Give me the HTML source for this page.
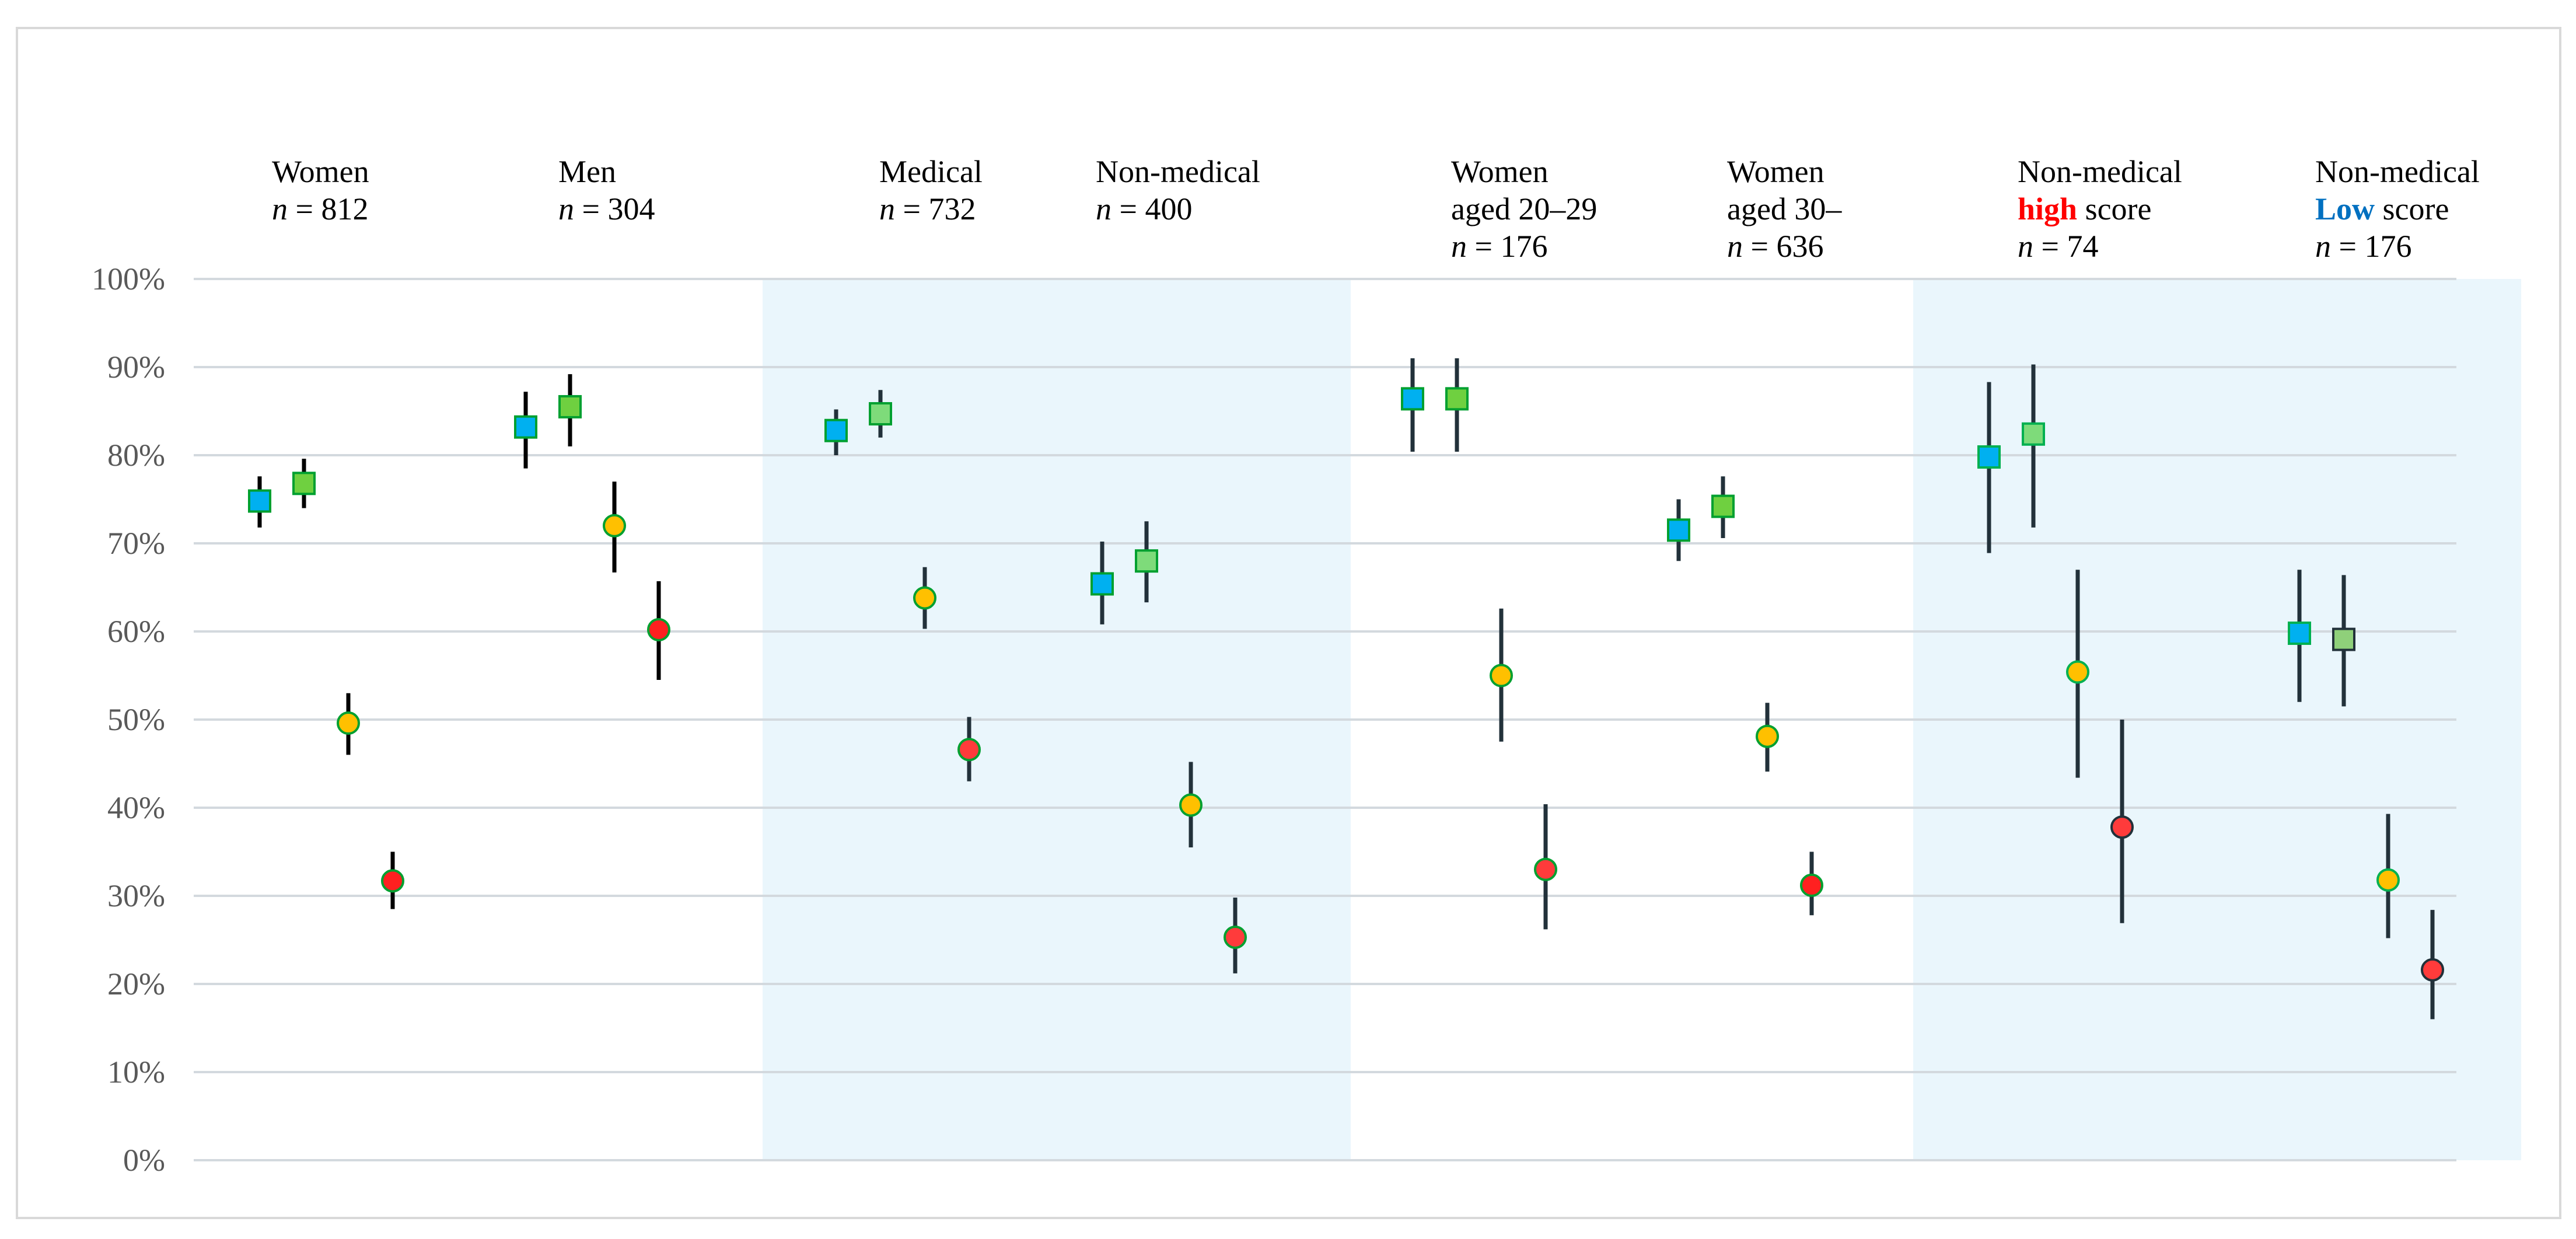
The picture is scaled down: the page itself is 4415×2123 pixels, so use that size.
<!DOCTYPE html>
<html><head><meta charset="utf-8"><style>
body{margin:0;background:#fff;}
svg{display:block;}
svg text{font-family:"Liberation Serif","Times New Roman",serif;}
</style></head><body>
<svg id="chart" width="4415" height="2123" viewBox="0 0 4415 2123" xmlns="http://www.w3.org/2000/svg">
<rect x="29" y="48" width="4359" height="2039" fill="#fff" stroke="#d9d9d9" stroke-width="4"/>
<g id="bands"></g>
<g id="grid"></g>
<g id="ylabels"></g>
<g id="cats"></g>
<g id="marks"></g>
</svg>
<script>
const groups = ["Women","Men","Medical","Non-medical","Women aged 20–29","Women aged 30–","Non-medical high score","Non-medical Low score"];
const groupN = [812,304,732,400,176,636,74,176];
const series = ["blue","green","yellow","red"];
const blueVal  = [74.8,83.2,82.8,65.4,86.4,71.5,79.8,59.8];
const blueLo   = [71.8,78.5,80.0,60.8,80.4,68.0,68.9,52.0];
const blueHi   = [77.6,87.2,85.2,70.2,91.0,75.0,88.3,67.0];
const greenVal = [76.8,85.5,84.7,68.0,86.4,74.2,82.4,59.1];
const greenLo  = [74.0,81.0,82.0,63.3,80.4,70.6,71.8,51.5];
const greenHi  = [79.6,89.2,87.4,72.5,91.0,77.6,90.3,66.4];
const yellowVal= [49.6,72.0,63.8,40.3,55.0,48.1,55.4,31.8];
const yellowLo = [46.0,66.7,60.3,35.5,47.5,44.1,43.4,25.2];
const yellowHi = [53.0,77.0,67.3,45.2,62.6,51.9,67.0,39.3];
const redVal   = [31.7,60.2,46.6,25.3,33.0,31.2,37.8,21.6];
const redLo    = [28.5,54.5,43.0,21.2,26.2,27.8,26.9,16.0];
const redHi    = [35.0,65.7,50.3,29.8,40.4,35.0,50.0,28.4];
const yTicks = [0,10,20,30,40,50,60,70,80,90,100];

const NS="http://www.w3.org/2000/svg";
const Y0=1988, Y100=478;
function y(v){return Y0-(Y0-Y100)*v/100;}
const groupSlot=[0,6,13,19,26,32,39,46];
function x(g,s){return 445+76*(groupSlot[g]+s);}
function mk(tag,attrs,parent){const e=document.createElementNS(NS,tag);for(const k in attrs)e.setAttribute(k,attrs[k]);parent.appendChild(e);return e;}

const bands=document.getElementById('bands');
let b1=mk('rect',{x:1307,y:Y100,width:1008,height:Y0-Y100,fill:'#eaf6fc'},bands);


let b2=mk('rect',{x:3279,y:Y100,width:1042,height:Y0-Y100,fill:'#eaf6fc'},bands);



const grid=document.getElementById('grid'), yl=document.getElementById('ylabels');
yTicks.forEach(t=>{
  let l=mk('line',{x1:332,x2:4210,y1:y(t),y2:y(t),stroke:'#d3d9de','stroke-width':4},grid);
  
  
  let tx=mk('text',{x:283,y:y(t)+18,'text-anchor':'end','font-size':54,fill:'#595959'},yl);
  tx.textContent=t+'%';
  
  
});

const cats=document.getElementById('cats');
const labelLines=[["Women"],["Men"],["Medical"],["Non-medical"],["Women","aged 20–29"],["Women","aged 30–"],["Non-medical","HIGH"],["Non-medical","LOW"]];
const labelX=[466,957,1507,1878,2487,2960,3458,3968];
labelLines.forEach((lines,g)=>{
  const gEl=mk('g',{},cats);
  
  
  let by=312;
  lines.forEach(line=>{
    const t=mk('text',{x:labelX[g],y:by,'font-size':54,fill:'#000'},gEl);
    if(line==="HIGH"){t.innerHTML='<tspan fill="#ff0000" font-weight="bold">high</tspan> score';}
    else if(line==="LOW"){t.innerHTML='<tspan fill="#0070c0" font-weight="bold">Low</tspan> score';}
    else t.textContent=line;
    by+=64;
  });
  const n=mk('text',{x:labelX[g],y:by,'font-size':54,fill:'#000'},gEl);
  n.innerHTML='<tspan font-style="italic">n</tspan> = '+groupN[g];
});

const vals=[blueVal,greenVal,yellowVal,redVal], los=[blueLo,greenLo,yellowLo,redLo], his=[blueHi,greenHi,yellowHi,redHi];
const fills=['#00b0f0','#6fd040','#ffc000','#ff2020'];
const marks=document.getElementById('marks');
groups.forEach((gname,g)=>{
  const dark = g>=6;
  const barColor = g>=2 ? '#22313a' : '#000';
  series.forEach((s,si)=>{
    const cx=x(g,si);
    const ge=mk('g',{},marks);
    
    
    mk('line',{x1:cx,x2:cx,y1:y(his[si][g]),y2:y(los[si][g]),stroke:barColor,'stroke-width':7},ge);
    let fill=fills[si];
    if(si===1 && (g===2||g===3||g===6)) fill='#7edb7a';
    if(si===1 && g===7) fill='#8fd07a';
    if(si===3 && g>=2 && g!==5) fill='#ff3b3b';
    const stroke = dark ? (si===0||si===1&&g===6||si===2?'#00b050':'#22313a') : '#00a030';
    const cy=y(vals[si][g]);
    if(si<2) mk('rect',{x:cx-18,y:cy-18,width:36,height:36,fill:fill,stroke:stroke,'stroke-width':4},ge);
    else mk('circle',{cx:cx,cy:cy,r:18,fill:fill,stroke:stroke,'stroke-width':4},ge);
  });
});
</script>
</body></html>
